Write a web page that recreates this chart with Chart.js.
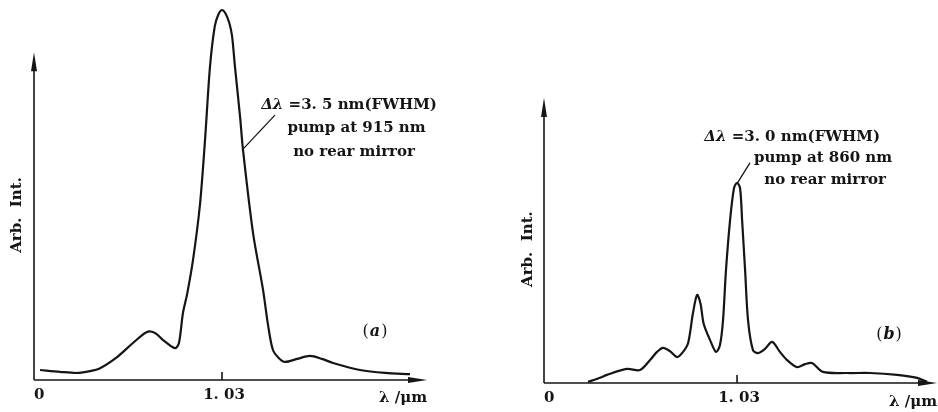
<!DOCTYPE html>
<html><head><meta charset="utf-8">
<script src="https://cdn.jsdelivr.net/npm/chart.js@4.4.0/dist/chart.umd.min.js"></script>
<style>
html,body{margin:0;padding:0;background:#fff;}
#wrap{position:relative;width:938px;height:412px;background:#fff;}
.pane{position:absolute;top:0;width:469px;height:412px;}
</style></head><body>
<div id="wrap">
<div class="pane" style="left:0"><canvas id="ca" width="469" height="412"></canvas></div>
<div class="pane" style="left:469px"><canvas id="cb" width="469" height="412"></canvas></div>
</div>
<script>
// ---- data (relative wavelength position, arbitrary intensity) ----
const xTickValues = [0, 1.03];
const xTickLabels = ['0', '1. 03'];
const xAxisTitle = 'λ /μm';
const yAxisTitle = 'Arb.  Int.';

const waveA = [0.033,0.142,0.236,0.307,0.362,0.455,0.542,0.619,0.663,0.707,0.773,0.794,0.816,0.838,0.871,0.909,0.937,0.964,0.990,1.010,1.030,1.050,1.070,1.085,1.101,1.129,1.145,1.200,1.255,1.282,1.309,1.342,1.375,1.441,1.512,1.578,1.638,1.786,1.923,2.060];
const intA  = [2.7,2.2,1.9,2.4,3.2,6.2,10.0,13.0,12.7,10.8,8.6,10.0,18.1,23.0,32.4,47.3,64.9,84.6,95.5,98.8,100,99.0,96.5,93.0,84.6,71.1,62.2,39.7,24.3,14.9,8.1,5.9,4.9,5.7,6.5,5.7,4.6,2.7,1.9,1.6];

const waveB = [0.235,0.299,0.336,0.443,0.512,0.566,0.603,0.635,0.672,0.710,0.742,0.769,0.795,0.817,0.835,0.852,0.886,0.918,0.939,0.955,0.971,0.993,1.014,1.030,1.046,1.057,1.073,1.089,1.115,1.142,1.179,1.217,1.259,1.297,1.350,1.393,1.430,1.489,1.617,1.740,1.884,1.991,2.044];
const intB  = [0.3,1.4,2.2,3.8,3.5,6.2,8.4,9.5,8.6,7.0,8.4,10.8,18.9,23.8,21.5,16.0,11.6,8.4,10.3,16.8,30.5,44.1,52.7,54.1,52.7,44.1,30.5,16.8,8.9,8.1,9.2,11.1,8.4,6.2,4.3,5.1,5.4,3.0,2.7,2.7,2.2,1.4,0.3];

const notesA = ['=3. 5 nm(FWHM)', 'pump at 915 nm', 'no rear mirror'];
const notesB = ['=3. 0 nm(FWHM)', 'pump at 860 nm', 'no rear mirror'];
const panelLabels = ['a', 'b'];

const FONT = '"DejaVu Serif", "Liberation Serif", serif';
const INK = '#151515';

const decor = {
  id: 'decor',
  afterDatasetsDraw(chart, args, o) {
    const ctx = chart.ctx, xs = chart.scales.x, ys = chart.scales.y;
    const x0 = xs.getPixelForValue(0), y0 = ys.getPixelForValue(0);
    const xEnd = xs.getPixelForValue(xs.max), yTop = ys.getPixelForValue(o.axisTop);
    ctx.save();
    ctx.strokeStyle = INK; ctx.fillStyle = INK; ctx.lineWidth = 1.6;
    // y axis with arrow
    ctx.beginPath(); ctx.moveTo(x0, y0); ctx.lineTo(x0, yTop + 12); ctx.stroke();
    ctx.beginPath(); ctx.moveTo(x0, yTop); ctx.lineTo(x0 - 3, yTop + 19); ctx.lineTo(x0 + 3, yTop + 19); ctx.closePath(); ctx.fill();
    // x axis with arrow
    ctx.beginPath(); ctx.moveTo(x0, y0); ctx.lineTo(xEnd - 12, y0); ctx.stroke();
    ctx.beginPath(); ctx.moveTo(xEnd, y0); ctx.lineTo(xEnd - 19, y0 - 3); ctx.lineTo(xEnd - 19, y0 + 3); ctx.closePath(); ctx.fill();
    // ticks + labels
    ctx.font = 'bold 15px ' + FONT; ctx.textBaseline = 'middle';
    xTickValues.forEach((v, i) => {
      const px = xs.getPixelForValue(v);
      if (v !== 0) {
        ctx.beginPath(); ctx.moveTo(px, y0); ctx.lineTo(px, y0 - 8); ctx.stroke();
        ctx.textAlign = 'center'; ctx.fillText(xTickLabels[i], px + 2, y0 + 15);
      } else {
        ctx.textAlign = 'left'; ctx.fillText(xTickLabels[i], px, y0 + 15);
      }
    });
    // x axis title
    ctx.textAlign = 'right';
    ctx.fillText(xAxisTitle, xEnd, y0 + o.xTitleDy);
    // y axis title
    ctx.save();
    ctx.translate(x0 - o.yTitleDx, ys.getPixelForValue(o.yTitleAt));
    ctx.rotate(-Math.PI / 2);
    ctx.textAlign = 'center';
    ctx.fillText(yAxisTitle, 0, 0);
    ctx.restore();
    // annotation lines
    o.lines.forEach((ln, i) => {
      const cx = xs.getPixelForValue(ln.x), cy = ys.getPixelForValue(ln.y);
      if (i === 0) {
        ctx.font = 'italic bold 15px ' + FONT;
        const w1 = ctx.measureText('Δλ ').width;
        ctx.font = 'bold 15px ' + FONT;
        const w2 = ctx.measureText(o.notes[0]).width;
        let sx = cx - (w1 + w2) / 2;
        ctx.textAlign = 'left';
        ctx.font = 'italic bold 15px ' + FONT;
        ctx.fillText('Δλ ', sx, cy);
        ctx.font = 'bold 15px ' + FONT;
        ctx.fillText(o.notes[0], sx + w1, cy);
      } else {
        ctx.textAlign = 'center';
        ctx.font = 'bold 15px ' + FONT;
        ctx.fillText(o.notes[i], cx, cy);
      }
    });
    // leader line
    ctx.lineWidth = 1.3;
    ctx.beginPath();
    ctx.moveTo(xs.getPixelForValue(o.leader[0]), ys.getPixelForValue(o.leader[1]));
    ctx.lineTo(xs.getPixelForValue(o.leader[2]), ys.getPixelForValue(o.leader[3]));
    ctx.stroke();
    // panel label "(a)" with italic letter
    const pcx = xs.getPixelForValue(o.panelAt[0]), pcy = ys.getPixelForValue(o.panelAt[1]);
    ctx.textAlign = 'left';
    ctx.font = '16px ' + FONT;
    const wp = ctx.measureText('(').width;
    ctx.font = 'italic bold 16px ' + FONT;
    const wl = ctx.measureText(o.panel).width;
    let sx = pcx - (2 * wp + wl + 2) / 2;
    ctx.font = '16px ' + FONT; ctx.fillText('(', sx, pcy);
    ctx.font = 'italic bold 16px ' + FONT; ctx.fillText(o.panel, sx + wp + 1, pcy);
    ctx.font = '16px ' + FONT; ctx.fillText(')', sx + wp + wl + 2, pcy);
    ctx.restore();
  }
};

function makeChart(id, wave, inten, pad, xmax, deco) {
  return new Chart(document.getElementById(id), {
    type: 'line',
    data: { datasets: [{
      data: wave.map((x, i) => ({ x: x, y: inten[i] })),
      borderColor: INK, borderWidth: 2.2, pointRadius: 0, fill: false,
      tension: 0.3, clip: false
    }]},
    options: {
      responsive: false, animation: false, devicePixelRatio: 1,
      layout: { padding: pad },
      scales: {
        x: { type: 'linear', min: 0, max: xmax, display: false },
        y: { type: 'linear', min: 0, max: 100, display: false }
      },
      plugins: { legend: { display: false }, tooltip: { enabled: false }, decor: deco }
    },
    plugins: [decor]
  });
}

makeChart('ca', waveA, intA, { left: 34, right: 42, top: 10, bottom: 32 }, 2.153, {
  axisTop: 88.6, yTitleDx: 17, yTitleAt: 44.6, xTitleDy: 18,
  notes: notesA,
  lines: [{ x: 1.726, y: 74.3 }, { x: 1.767, y: 68.1 }, { x: 1.753, y: 61.6 }],
  leader: [1.320, 71.6, 1.145, 62.4],
  panel: panelLabels[0], panelAt: [1.868, 13.0]
});
makeChart('cb', waveB, intB, { left: 75, right: 1, top: 13, bottom: 29 }, 2.097, {
  axisTop: 77.0, yTitleDx: 16, yTitleAt: 36.2, xTitleDy: 19,
  notes: notesB,
  lines: [{ x: 1.324, y: 66.5 }, { x: 1.489, y: 60.8 }, { x: 1.500, y: 54.9 }],
  leader: [1.099, 59.5, 1.035, 54.3],
  panel: panelLabels[1], panelAt: [1.841, 13.0]
});
</script>
</body></html>
